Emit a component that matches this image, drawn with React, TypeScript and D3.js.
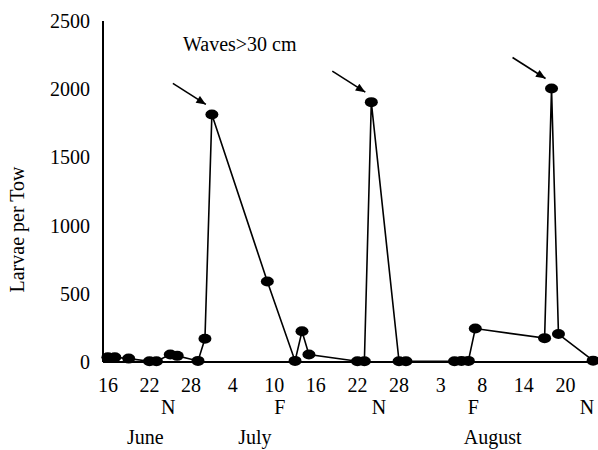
import React from "react";
import * as d3 from "d3";

// Days since June 16 for each tow, and larvae per tow
const sampleDays = [0, 1, 3, 6, 7, 9, 10, 13, 14, 15, 23, 27, 28, 29, 36, 37, 38, 42, 43, 50, 51, 52, 53, 63, 64, 65, 70];
const larvaePerTow = [35, 35, 25, 5, 5, 55, 45, 8, 170, 1815, 590, 8, 225, 55, 5, 5, 1905, 5, 5, 5, 8, 8, 245, 175, 2005, 205, 10];

const xTickDays = [0, 6, 12, 18, 24, 30, 36, 42, 48, 54, 60, 66];
const xTickLabels = ["16", "22", "28", "4", "10", "16", "22", "28", "3", "8", "14", "20"];
const yTicks = [0, 500, 1000, 1500, 2000, 2500];

const moonDays = [8.7, 24.8, 39.1, 52.7, 69.1];
const moonLabels = ["N", "F", "N", "F", "N"];
const monthDays = [5.4, 21.2, 55.5];
const monthLabels = ["June", "July", "August"];

const peakDays = [15, 38, 64];
const annotationText = "Waves>30 cm";

const W = 598;
const H = 450;
const FONT = "'Liberation Serif', 'Times New Roman', Times, serif";

export default function App() {
  const x = d3.scaleLinear().domain([0, 66]).range([107.9, 565.4]);
  const y = d3.scaleLinear().domain([0, 2500]).range([362, 21]);
  const pts = sampleDays.map((d, i) => ({ d, v: larvaePerTow[i] }));
  const line = d3
    .line<{ d: number; v: number }>()
    .x((p) => x(p.d))
    .y((p) => y(p.v));
  const peaks = peakDays.map((d) => {
    const p = pts.find((q) => q.d === d)!;
    return { px: x(p.d), py: y(p.v) };
  });
  const ts = { fontFamily: FONT, fontSize: 20 } as React.CSSProperties;

  return (
    <svg
      width={W}
      height={H}
      style={{ position: "absolute", left: 0, top: 0, background: "#fff", fontFamily: FONT }}
    >
      <defs>
        <marker id="ah" viewBox="0 0 12 10" refX="12" refY="5" markerWidth="12" markerHeight="8" markerUnits="userSpaceOnUse" orient="auto">
          <path d="M0,0 L12,5 L0,10 z" fill="#000" />
        </marker>
      </defs>
      <line x1={103} x2={103} y1={y(2500)} y2={y(0)} stroke="#000" strokeWidth={2} />
      <line x1={103} x2={W} y1={y(0)} y2={y(0)} stroke="#000" strokeWidth={2} />
      {yTicks.map((t) => (
        <text key={t} x={90} y={y(t)} dy="0.35em" textAnchor="end" style={ts}>
          {t}
        </text>
      ))}
      {xTickDays.map((d, i) => (
        <text key={i} x={x(d)} y={392} textAnchor="middle" style={ts}>
          {xTickLabels[i]}
        </text>
      ))}
      {moonDays.map((d, i) => (
        <text key={i} x={x(d)} y={414} textAnchor="middle" style={ts}>
          {moonLabels[i]}
        </text>
      ))}
      {monthDays.map((d, i) => (
        <text key={i} x={x(d)} y={444} textAnchor="middle" style={ts}>
          {monthLabels[i]}
        </text>
      ))}
      <text transform={`translate(24,${(y(0) + y(2500)) / 2 + 38}) rotate(-90)`} textAnchor="middle" style={ts}>
        Larvae per Tow
      </text>
      <path d={line(pts) || ""} fill="none" stroke="#000" strokeWidth={1.6} />
      {pts.map((p, i) => (
        <ellipse key={i} cx={x(p.d)} cy={y(p.v)} rx={6.5} ry={5} fill="#000" />
      ))}
      <text x={183} y={51} style={ts}>
        {annotationText}
      </text>
      {peaks.map((p, i) => (
        <line
          key={i}
          x1={p.px - 39}
          y1={p.py - 31}
          x2={p.px - 6}
          y2={p.py - 10}
          stroke="#000"
          strokeWidth={1.6}
          markerEnd="url(#ah)"
        />
      ))}
    </svg>
  );
}
